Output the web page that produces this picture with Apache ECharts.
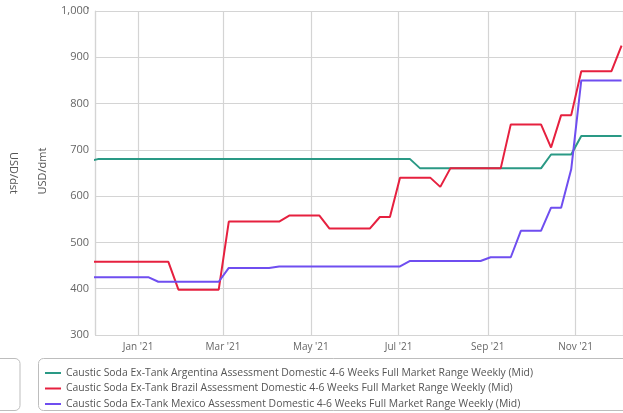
<!DOCTYPE html>
<html>
<head>
<meta charset="utf-8">
<script src="https://cdn.jsdelivr.net/npm/echarts@6/dist/echarts.min.js"></script>
<style>html,body{margin:0;padding:0;background:#fff}#c{width:623px;height:413px}</style>
</head>
<body>
<div id="c"></div>
<script>
const dates = [
 '2020-11-27','2020-12-04','2020-12-11','2020-12-18','2020-12-25',
 '2021-01-01','2021-01-08','2021-01-15','2021-01-22','2021-01-29',
 '2021-02-05','2021-02-12','2021-02-19','2021-02-26',
 '2021-03-05','2021-03-12','2021-03-19','2021-03-26',
 '2021-04-02','2021-04-09','2021-04-16','2021-04-23','2021-04-30',
 '2021-05-07','2021-05-14','2021-05-21','2021-05-28',
 '2021-06-04','2021-06-11','2021-06-18','2021-06-25',
 '2021-07-02','2021-07-09','2021-07-16','2021-07-23','2021-07-30',
 '2021-08-06','2021-08-13','2021-08-20','2021-08-27',
 '2021-09-03','2021-09-10','2021-09-17','2021-09-24',
 '2021-10-01','2021-10-08','2021-10-15','2021-10-22','2021-10-29',
 '2021-11-05','2021-11-12','2021-11-19','2021-11-26','2021-12-03'
];
const argentina = [675,
 680,680,680,680,680,680,680,680,680,680,680,680,680,680,680,680,
 680,680,680,680,680,680,680,680,680,680,680,680,680,680,680,680,
 660,660,660,660,660,660,660,660,660,660,660,660,660,
 690,690,690,
 730,730,730,730,730];
const brazil = [458,458,458,458,458,458,458,458,458,
 398,398,398,398,398,
 545,545,545,545,545,545,
 558,558,558,558,
 530,530,530,530,530,
 555,555,
 640,640,640,640,
 620,
 660,660,660,660,660,660,
 755,755,755,755,
 705,
 775,775,
 870,870,870,870,
 925];
const mexico = [425,425,425,425,425,425,425,
 415,415,415,415,415,415,415,
 445,445,445,445,445,
 448,448,448,448,448,448,448,448,448,448,448,448,448,
 460,460,460,460,460,460,460,460,
 468,468,468,
 525,525,525,
 575,575,
 658,
 850,850,850,850,850];
const seriesNames = [
 'Caustic Soda Ex-Tank Argentina Assessment Domestic 4-6 Weeks Full Market Range Weekly (Mid)',
 'Caustic Soda Ex-Tank Brazil Assessment Domestic 4-6 Weeks Full Market Range Weekly (Mid)',
 'Caustic Soda Ex-Tank Mexico Assessment Domestic 4-6 Weeks Full Market Range Weekly (Mid)'
];
const colors = ['#2a9985', '#e6203f', '#6f4ef0'];
const monthNames = ['Jan','Feb','Mar','Apr','May','Jun','Jul','Aug','Sep','Oct','Nov','Dec'];

const font = '"Open Sans", sans-serif';
const chart = echarts.init(document.getElementById('c'), null, {renderer: 'canvas'});
const mk = (arr) => dates.map((d, i) => [d, arr[i]]);
chart.setOption({
  animation: false,
  color: colors,
  grid: {left: 95, top: 11, right: 0, bottom: 78, containLabel: false},
  xAxis: {
    type: 'time',
    min: '2020-12-02',
    max: '2021-12-04',
    splitNumber: 5,
    axisLine: {show: false},
    axisTick: {show: false},
    splitLine: {show: true, lineStyle: {color: '#d4d4d4', width: 1.2}},
    axisLabel: {
      color: '#666', fontSize: 10, fontFamily: font, margin: 7, hideOverlap: false,
      formatter: (v) => { const d = new Date(v); return monthNames[d.getMonth()] + " '" + String(d.getFullYear()).slice(2); }
    }
  },
  yAxis: {
    type: 'value', min: 300, max: 1000, interval: 100,
    axisLine: {show: true, lineStyle: {color: '#d4d4d4', width: 1.2}},
    axisTick: {show: false},
    splitLine: {show: true, lineStyle: {color: '#d4d4d4', width: 1.2}},
    axisLabel: {color: '#666', fontSize: 11, fontFamily: font, margin: 6,
      formatter: (v) => v.toLocaleString('en-US')}
  },
  legend: {
    orient: 'vertical', left: 45, top: 367, itemWidth: 16, itemHeight: 2, itemGap: 3.5,
    padding: 0, height: 50,
    icon: 'rect',
    textStyle: {color: '#555', fontSize: 10.4, fontFamily: font, lineHeight: 12},
    data: seriesNames
  },
  series: [argentina, brazil, mexico].map((arr, i) => ({
    name: seriesNames[i], type: 'line', data: mk(arr), showSymbol: false, symbol: 'none',
    lineStyle: {width: 2}, clip: true
  })),
  graphic: [
    {type: 'rect', shape: {x: 38.5, y: 358.5, width: 620, height: 52, r: 5}, style: {fill: 'none', stroke: '#bdbdbd', lineWidth: 1}},
    {type: 'rect', shape: {x: -30, y: 358.5, width: 50, height: 52, r: 5}, style: {fill: 'none', stroke: '#bdbdbd', lineWidth: 1}},
    {type: 'text', x: 43, y: 171, rotation: Math.PI / 2, style: {text: 'USD/dmt', fill: '#555', fontSize: 11, fontFamily: font, align: 'center', verticalAlign: 'middle'}},
    {type: 'text', x: 13, y: 173, rotation: -Math.PI / 2, style: {text: 'USD/dst', fill: '#555', fontSize: 11, fontFamily: font, align: 'center', verticalAlign: 'middle'}},
    {type: 'circle', shape: {cx: 88, cy: 8, r: 0.8}, style: {fill: '#333'}}
  ]
});
</script>
</body>
</html>
